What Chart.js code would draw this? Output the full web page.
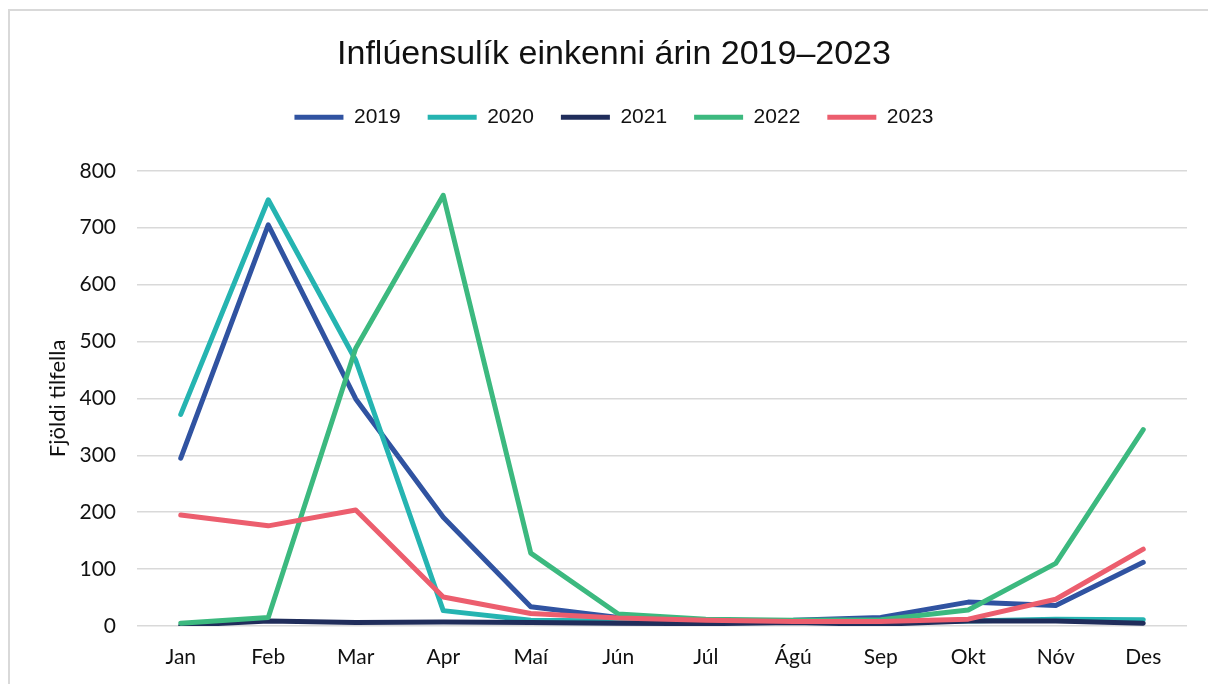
<!DOCTYPE html>
<html lang="is">
<head>
  <meta charset="UTF-8" />
  <title>Inflúensulík einkenni</title>
  <script src="https://cdn.jsdelivr.net/npm/chart.js"></script>
  <style>
    body {
      margin: 0;
      padding: 0;
      background: #ffffff;
      font-family: 'Lato', sans-serif;
    }

    .wrap {
      position: relative;
      width: 1208px;
      height: 684px;
      overflow: hidden;
    }

    /* light frame round the chart, like the Excel chart area */
    .frame {
      position: absolute;
      left: 8px;
      top: 9px;
      width: 1260px;
      height: 720px;
      border: 2px solid #d9d9d9;
    }

    canvas {
      position: absolute;
      left: 0;
      top: 0;
    }
  </style>
</head>
<body>
  <div class="wrap">
    <div class="frame"></div>
    <canvas id="fluChart" width="1208" height="684"></canvas>
  </div>

  <script>
    const months = ['Jan', 'Feb', 'Mar', 'Apr', 'Maí', 'Jún', 'Júl', 'Ágú', 'Sep', 'Okt', 'Nóv', 'Des'];
    const years = ['2019', '2020', '2021', '2022', '2023'];

    const cases2019 = [295, 705, 399, 191, 34, 15, 9, 10, 15, 42, 36, 112];
    const cases2020 = [372, 749, 467, 27, 10, 9, 8, 8, 7, 9, 12, 11];
    const cases2021 = [1, 9, 6, 7, 6, 5, 4, 6, 3, 9, 9, 5];
    const cases2022 = [5, 15, 488, 757, 128, 21, 12, 10, 11, 28, 110, 345];
    const cases2023 = [195, 176, 204, 51, 22, 14, 10, 8, 8, 12, 47, 135];

    const yTicks = [0, 100, 200, 300, 400, 500, 600, 700, 800];

    const colors = ['#3053a1', '#25b4b1', '#202d5b', '#3cb97f', '#ec5e6e'];
    const series = [cases2019, cases2020, cases2021, cases2022, cases2023];

    const datasets = series.map((vals, i) => ({
      label: years[i],
      data: vals,
      borderColor: colors[i],
      backgroundColor: colors[i],
      borderWidth: 5,
      borderCapStyle: 'round',
      borderJoinStyle: 'round',
      pointRadius: 0,
      pointStyle: 'line',
      tension: 0,
      order: series.length - i   // later years drawn on top, as in the original
    }));

    // leave some room between the legend and the plot
    const legendGap = {
      id: 'legendGap',
      beforeLayout(chart) {
        const legend = chart.legend;
        if (legend && !legend._gapPatched) {
          const fit = legend.fit;
          legend.fit = function () {
            fit.call(this);
            this.height += 33;
          };
          legend._gapPatched = true;
        }
      }
    };

    new Chart(document.getElementById('fluChart'), {
      type: 'line',
      data: { labels: months, datasets: datasets },
      plugins: [legendGap],
      options: {
        responsive: false,
        animation: false,
        layout: { padding: { left: 41, right: 21, top: 0, bottom: 0 } },
        font: { family: "'Lato', sans-serif" },
        color: '#111',
        plugins: {
          tooltip: { enabled: false },
          title: {
            display: true,
            text: 'Inflúensulík einkenni árin 2019–2023',
            color: '#111',
            font: { size: 34, weight: 'normal', lineHeight: 1.2 },
            padding: { top: 34, bottom: 5 }
          },
          legend: {
            display: true,
            labels: {
              usePointStyle: true,
              pointStyleWidth: 49,
              boxHeight: 21,
              padding: 27,
              color: '#111',
              font: { size: 21 },
              sort: (a, b) => a.datasetIndex - b.datasetIndex
            }
          }
        },
        scales: {
          x: {
            offset: true,
            grid: { display: false, drawTicks: false },
            border: { display: false },
            ticks: {
              padding: 19,
              color: '#111',
              font: { size: 21 },
              maxRotation: 0
            },
            afterFit: (scale) => { scale.height = 58; }
          },
          y: {
            min: 0,
            max: 800,
            afterBuildTicks: (scale) => { scale.ticks = yTicks.map(v => ({ value: v })); },
            grid: { color: '#d9d9d9', lineWidth: 1.5, drawTicks: false },
            border: { display: false },
            ticks: {
              padding: 21,
              color: '#111',
              font: { size: 21 }
            },
            title: {
              display: true,
              text: 'Fjöldi tilfella',
              color: '#111',
              font: { size: 22 },
              padding: { top: 4, bottom: 4 }
            },
            afterFit: (scale) => { scale.width = 96; }
          }
        }
      }
    });
  </script>
</body>
</html>
